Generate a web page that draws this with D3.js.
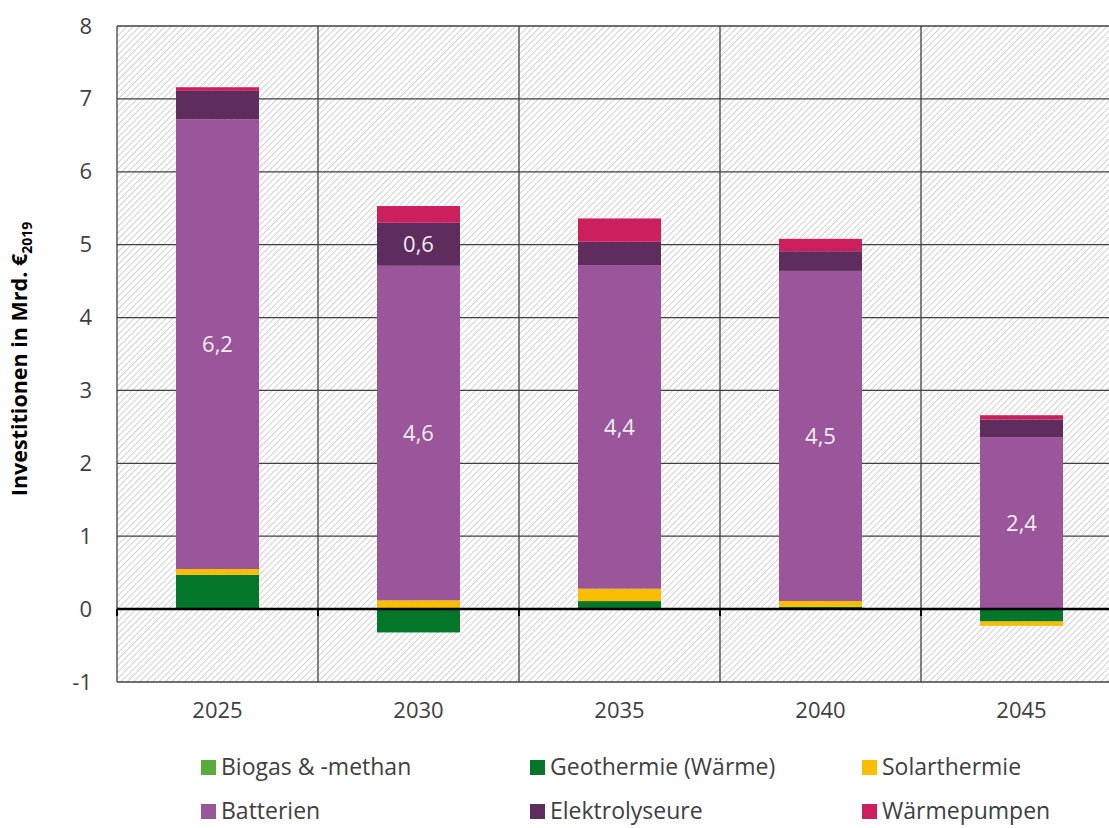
<!DOCTYPE html>
<html>
<head>
<meta charset="utf-8">
<script src="https://cdn.jsdelivr.net/npm/d3@7"></script>
<style>
  body { margin: 0; background: #fff; overflow: hidden; }
  svg text { font-family: "Open Sans", sans-serif; }
  .tick-label { fill: #404040; font-size: 22px; }
  .seg-label { fill: #eeeeee; font-size: 22px; }
  .legend-label { fill: #404040; font-size: 23px; }
</style>
</head>
<body>
<div id="chart"></div>
<script>
const years = ["2025", "2030", "2035", "2040", "2045"]
const seriesNames = ["Biogas & -methan", "Geothermie (Wärme)", "Solarthermie", "Batterien", "Elektrolyseure", "Wärmepumpen"]
const seriesColors = ["#5aaa3c", "#037629", "#fbbd00", "#9b559b", "#5e2d5e", "#cc1f5e"]

const biogas = [0.01, 0, 0, 0, 0]
const geothermie = [0.46, -0.32, 0.11, 0.03, -0.17]
const solarthermie = [0.08, 0.12, 0.17, 0.08, -0.06]
const batterien = [6.17, 4.59, 4.44, 4.53, 2.36]
const elektrolyseure = [0.39, 0.59, 0.32, 0.27, 0.24]
const waermepumpen = [0.05, 0.23, 0.32, 0.17, 0.06]

const yTicks = [-1, 0, 1, 2, 3, 4, 5, 6, 7, 8]
// which segments carry a value label
const labelled = [
    { series: "Batterien", years: years },
    { series: "Elektrolyseure", years: ["2030"] }
]

const values = [biogas, geothermie, solarthermie, batterien, elektrolyseure, waermepumpen]
const table = years.map((y, i) => {
    const row = { year: y }
    seriesNames.forEach((s, j) => row[s] = values[j][i])
    return row
})

const width = 1109, height = 828
// plot runs a bit past the right edge of the picture
const plotLeft = 117, plotRight = 1122
const margin = { top: 26, bottom: 146 }

const svg = d3.select("#chart").append("svg")
    .attr("width", width)
    .attr("height", height)

const defs = svg.append("defs")
const hatch = defs.append("pattern")
    .attr("id", "hatch")
    .attr("patternUnits", "userSpaceOnUse")
    .attr("width", 4.5)
    .attr("height", 4.5)
    .attr("patternTransform", "rotate(45)")
hatch.append("rect").attr("width", 4.5).attr("height", 4.5).attr("fill", "#ffffff")
hatch.append("line")
    .attr("x1", 0).attr("y1", 0).attr("x2", 0).attr("y2", 4.5)
    .attr("stroke", "#cfcfcf")
    .attr("stroke-width", 2)

const xScale = d3.scaleBand()
    .domain(years)
    .range([plotLeft, plotRight])

const yScale = d3.scaleLinear()
    .domain([-1, 8])
    .range([height - margin.bottom, margin.top])

// background
svg.append("rect")
    .attr("x", plotLeft)
    .attr("y", margin.top)
    .attr("width", plotRight - plotLeft)
    .attr("height", yScale(-1) - margin.top)
    .attr("fill", "url(#hatch)")

// grid
const grid = svg.append("g")
grid.selectAll(".hgrid")
    .data(yTicks.filter(t => t !== 0))
    .enter()
    .append("line")
    .attr("x1", plotLeft)
    .attr("x2", plotRight)
    .attr("y1", d => yScale(d))
    .attr("y2", d => yScale(d))
    .attr("stroke", "#404040")
    .attr("stroke-width", 1.3)

const bounds = years.map(y => xScale(y)).concat([plotRight])
grid.selectAll(".vgrid")
    .data(bounds)
    .enter()
    .append("line")
    .attr("x1", d => d)
    .attr("x2", d => d)
    .attr("y1", margin.top)
    .attr("y2", yScale(-1))
    .attr("stroke", "#404040")
    .attr("stroke-width", 1.3)

// bars
const stack = d3.stack()
    .keys(seriesNames)
    .offset(d3.stackOffsetDiverging)
const stacked = stack(table)

const barWidth = 83
const barOffset = 59

svg.append("g").selectAll("g")
    .data(stacked)
    .enter()
    .append("g")
    .attr("fill", (d, i) => seriesColors[i])
    .selectAll("rect")
    .data(d => d)
    .enter()
    .append("rect")
    .attr("x", d => xScale(d.data.year) + barOffset)
    .attr("width", barWidth)
    .attr("y", d => yScale(Math.max(d[0], d[1])))
    .attr("height", d => Math.abs(yScale(d[0]) - yScale(d[1])))

// zero line + little ticks
svg.append("line")
    .attr("x1", plotLeft)
    .attr("x2", plotRight)
    .attr("y1", yScale(0))
    .attr("y2", yScale(0))
    .attr("stroke", "#000")
    .attr("stroke-width", 2.5)

svg.append("g").selectAll("line")
    .data(bounds)
    .enter()
    .append("line")
    .attr("x1", d => d)
    .attr("x2", d => d)
    .attr("y1", yScale(0))
    .attr("y2", yScale(0) + 7)
    .attr("stroke", "#000")
    .attr("stroke-width", 2)

// segment labels
const fmt = v => v.toFixed(1).replace(".", ",")
labelled.forEach(l => {
    const si = seriesNames.indexOf(l.series)
    stacked[si].forEach(d => {
        if (l.years.indexOf(d.data.year) < 0) return
        svg.append("text")
            .classed("seg-label", true)
            .attr("x", xScale(d.data.year) + barOffset + barWidth / 2)
            .attr("y", yScale((d[0] + d[1]) / 2))
            .attr("dy", "0.35em")
            .attr("text-anchor", "middle")
            .text(fmt(d.data[l.series]))
    })
})

// y axis labels
const yAxis = d3.axisLeft(yScale)
    .tickValues(yTicks)
    .tickFormat(d => String(d))
    .tickSize(0)
    .tickPadding(25)
const yAxisEl = svg.append("g")
    .attr("transform", `translate(${plotLeft},0)`)
    .call(yAxis)
yAxisEl.select(".domain").remove()
yAxisEl.selectAll("text").attr("class", "tick-label").attr("fill", null).attr("font-size", null).attr("font-family", null)

// x axis labels
const xAxis = d3.axisBottom(xScale).tickSize(0).tickPadding(20)
const xAxisEl = svg.append("g")
    .attr("transform", `translate(0,${yScale(-1)})`)
    .call(xAxis)
xAxisEl.select(".domain").remove()
xAxisEl.selectAll("text").attr("class", "tick-label").attr("fill", null).attr("font-size", null).attr("font-family", null)

// y title
const yTitle = svg.append("text")
    .attr("transform", `translate(27,${(margin.top + yScale(-1)) / 2 + 5}) rotate(-90)`)
    .attr("text-anchor", "middle")
    .style("font-weight", "bold")
    .style("font-size", "21.5px")
    .attr("fill", "#000")
yTitle.append("tspan").text("Investitionen in Mrd. €")
yTitle.append("tspan").text("2019").attr("font-size", "14px").attr("dy", 5)

// legend
const legendX = [201, 530, 862]
const legendY = [767, 811]
seriesNames.forEach((s, i) => {
    const g = svg.append("g")
        .attr("transform", `translate(${legendX[i % 3]},${legendY[Math.floor(i / 3)]})`)
    g.append("rect")
        .attr("x", 0)
        .attr("y", -7)
        .attr("width", 15)
        .attr("height", 15)
        .attr("fill", seriesColors[i])
    g.append("text")
        .classed("legend-label", true)
        .attr("x", 20)
        .attr("y", 0)
        .attr("dy", "0.35em")
        .text(s)
})
</script>
</body>
</html>
